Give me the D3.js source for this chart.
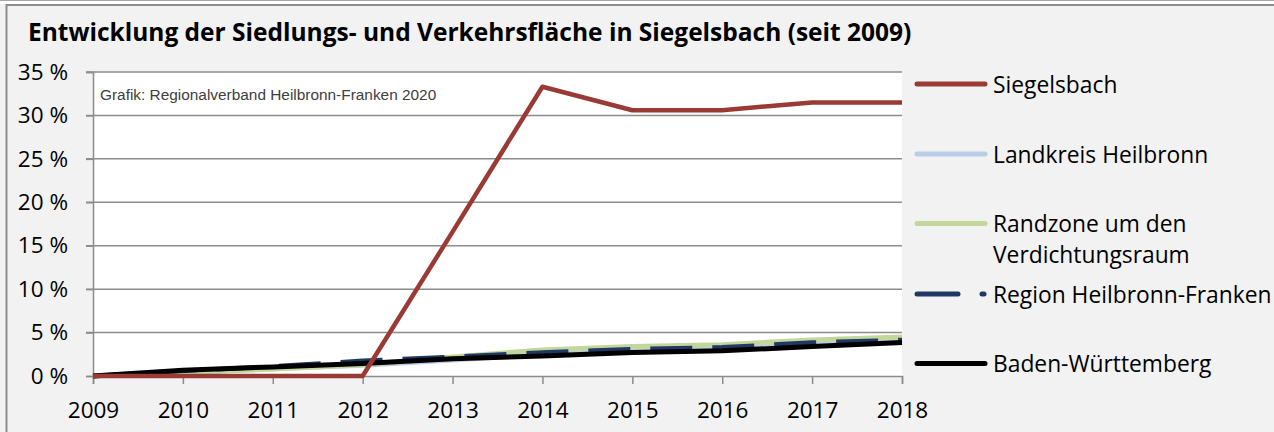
<!DOCTYPE html>
<html>
<head>
<meta charset="utf-8">
<script src="https://cdn.jsdelivr.net/npm/d3@7"></script>
<style>
  body { margin: 0; background: #f2f2f2; }
  svg { display: block; }
</style>
</head>
<body>
<svg id="chart"></svg>
<script>
// data
const years = [2009, 2010, 2011, 2012, 2013, 2014, 2015, 2016, 2017, 2018];
const siegelsbach = [0, 0, 0, 0, 16.6, 33.3, 30.6, 30.6, 31.5, 31.5];
const landkreis = [0, 0.4, 0.8, 1.2, 1.8, 2.5, 2.9, 3.2, 3.7, 4.1];
const randzone = [0, 0.4, 0.8, 1.3, 2.2, 3.0, 3.4, 3.6, 4.15, 4.5];
const region = [0, 0.6, 1.1, 1.75, 2.2, 2.7, 3.1, 3.3, 3.85, 4.15];
const bw = [0, 0.65, 1.05, 1.45, 2.0, 2.3, 2.7, 2.9, 3.4, 3.85];
const yTicks = [0, 5, 10, 15, 20, 25, 30, 35];

const seriesNames = ["Siegelsbach", "Landkreis Heilbronn", "Randzone um den Verdichtungsraum", "Region Heilbronn-Franken", "Baden-Württemberg"];
const seriesValues = [siegelsbach, landkreis, randzone, region, bw];
const colors = ["#993a35", "#b9cde5", "#c3d69b", "#1f3864", "#000000"];

const width = 1274, height = 432;
const margin = { top: 72, right: 372, bottom: 56, left: 93 };
const font = "'Open Sans', sans-serif";

const svg = d3.select("#chart").attr("width", width).attr("height", height);

// outer frame
svg.append("rect").attr("x", 0).attr("y", 0).attr("width", width).attr("height", height).attr("fill", "#f2f2f2");
svg.append("line").attr("x1", 0).attr("x2", width).attr("y1", 0.5).attr("y2", 0.5).attr("stroke", "#a6a6a6");
svg.append("rect").attr("x", 0).attr("y", 1).attr("width", width).attr("height", 3).attr("fill", "#ffffff");
svg.append("line").attr("x1", 6.5).attr("x2", width).attr("y1", 5).attr("y2", 5).attr("stroke", "#8c8c8c").attr("stroke-width", 2);
svg.append("line").attr("x1", 6.5).attr("x2", 6.5).attr("y1", 4).attr("y2", height).attr("stroke", "#8c8c8c").attr("stroke-width", 2);

const x = d3.scaleLinear().domain([2009, 2018]).range([margin.left, width - margin.right]);
const y = d3.scaleLinear().domain([0, 35]).range([height - margin.bottom, margin.top]);

// plot background
svg.append("rect")
  .attr("x", x(2009)).attr("y", y(35))
  .attr("width", x(2018) - x(2009)).attr("height", y(0) - y(35))
  .attr("fill", "#ffffff");

// gridlines
svg.append("g")
  .selectAll("line")
  .data(yTicks.filter(d => d > 0))
  .join("line")
  .attr("x1", x(2009) - 7).attr("x2", x(2018))
  .attr("y1", d => y(d)).attr("y2", d => y(d))
  .attr("stroke", "#8c8c8c").attr("stroke-width", 1.5);

// y axis
const yAxis = d3.axisLeft(y).tickValues(yTicks).tickSize(7).tickPadding(18).tickFormat(d => d + " %");
const gy = svg.append("g").attr("transform", `translate(${x(2009)},0)`).call(yAxis);
gy.select(".domain").attr("stroke", "#8c8c8c").attr("stroke-width", 1.5);
gy.selectAll(".tick line").attr("stroke", "#8c8c8c").attr("stroke-width", 1.5);
gy.selectAll(".tick text").attr("font-family", font).attr("font-size", 22.5).attr("fill", "#000");

// x axis
const xAxis = d3.axisBottom(x).tickValues(years).tickSize(8).tickPadding(18).tickFormat(d3.format("d"));
const gx = svg.append("g").attr("transform", `translate(0,${y(0)})`).call(xAxis);
gx.select(".domain").attr("stroke", "#8c8c8c").attr("stroke-width", 1.5);
gx.selectAll(".tick line").attr("stroke", "#8c8c8c").attr("stroke-width", 1.5);
gx.selectAll(".tick text").attr("font-family", font).attr("font-size", 22.5).attr("fill", "#000");

// source note
svg.append("text")
  .attr("x", x(2009) + 7).attr("y", 100)
  .attr("font-family", "'Liberation Sans', Arial, sans-serif").attr("font-size", 15.4)
  .attr("fill", "#404040")
  .text("Grafik: Regionalverband Heilbronn-Franken 2020");

// lines
const line = d3.line()
  .x((d, i) => x(years[i]))
  .y(d => y(d));

const drawOrder = [1, 2, 3, 4, 0];
const lineWidths = [4.5, 4.5, 5, 4.5, 5];
svg.append("g")
  .selectAll("path")
  .data(drawOrder)
  .join("path")
  .attr("fill", "none")
  .attr("stroke", i => colors[i])
  .attr("stroke-width", i => lineWidths[i])
  .attr("stroke-linejoin", "round")
  .attr("stroke-dasharray", i => i === 3 ? "42,20" : null)
  .attr("d", i => line(seriesValues[i]));

// legend
const legendX = 916;
const legendRows = [
  { i: 0, y: 84, lines: ["Siegelsbach"] },
  { i: 1, y: 154, lines: ["Landkreis Heilbronn"] },
  { i: 2, y: 223.5, lines: ["Randzone um den", "Verdichtungsraum"] },
  { i: 3, y: 294, lines: ["Region Heilbronn-Franken"] },
  { i: 4, y: 363.5, lines: ["Baden-Württemberg"] },
];
const legend = svg.append("g");
legendRows.forEach(r => {
  const g = legend.append("g");
  if (r.i === 3) {
    g.append("line").attr("x1", legendX + 1).attr("x2", legendX + 42).attr("y1", r.y).attr("y2", r.y)
      .attr("stroke", colors[r.i]).attr("stroke-width", 5).attr("stroke-linecap", "round");
    g.append("line").attr("x1", legendX + 66).attr("x2", legendX + 68).attr("y1", r.y).attr("y2", r.y)
      .attr("stroke", colors[r.i]).attr("stroke-width", 5).attr("stroke-linecap", "round");
  } else {
    g.append("line").attr("x1", legendX + 1).attr("x2", legendX + 69).attr("y1", r.y).attr("y2", r.y)
      .attr("stroke", colors[r.i]).attr("stroke-width", 5).attr("stroke-linecap", "round");
  }
  r.lines.forEach((t, k) => {
    g.append("text")
      .attr("x", legendX + 77).attr("y", r.y + 8.5 + k * 31.3)
      .attr("font-family", font).attr("font-size", 22.8).attr("fill", "#000")
      .text(t);
  });
});

// title, sized so it spans the same width as in the picture
const title = svg.append("text")
  .attr("x", 28).attr("y", 41)
  .attr("font-family", font).attr("font-weight", "bold").attr("font-size", 21)
  .attr("fill", "#000")
  .text("Entwicklung der Siedlungs- und Verkehrsfläche in Siegelsbach (seit 2009)");
const titleLen = title.node().getComputedTextLength();
title.attr("font-size", 21 * 884 / titleLen);
</script>
</body>
</html>
